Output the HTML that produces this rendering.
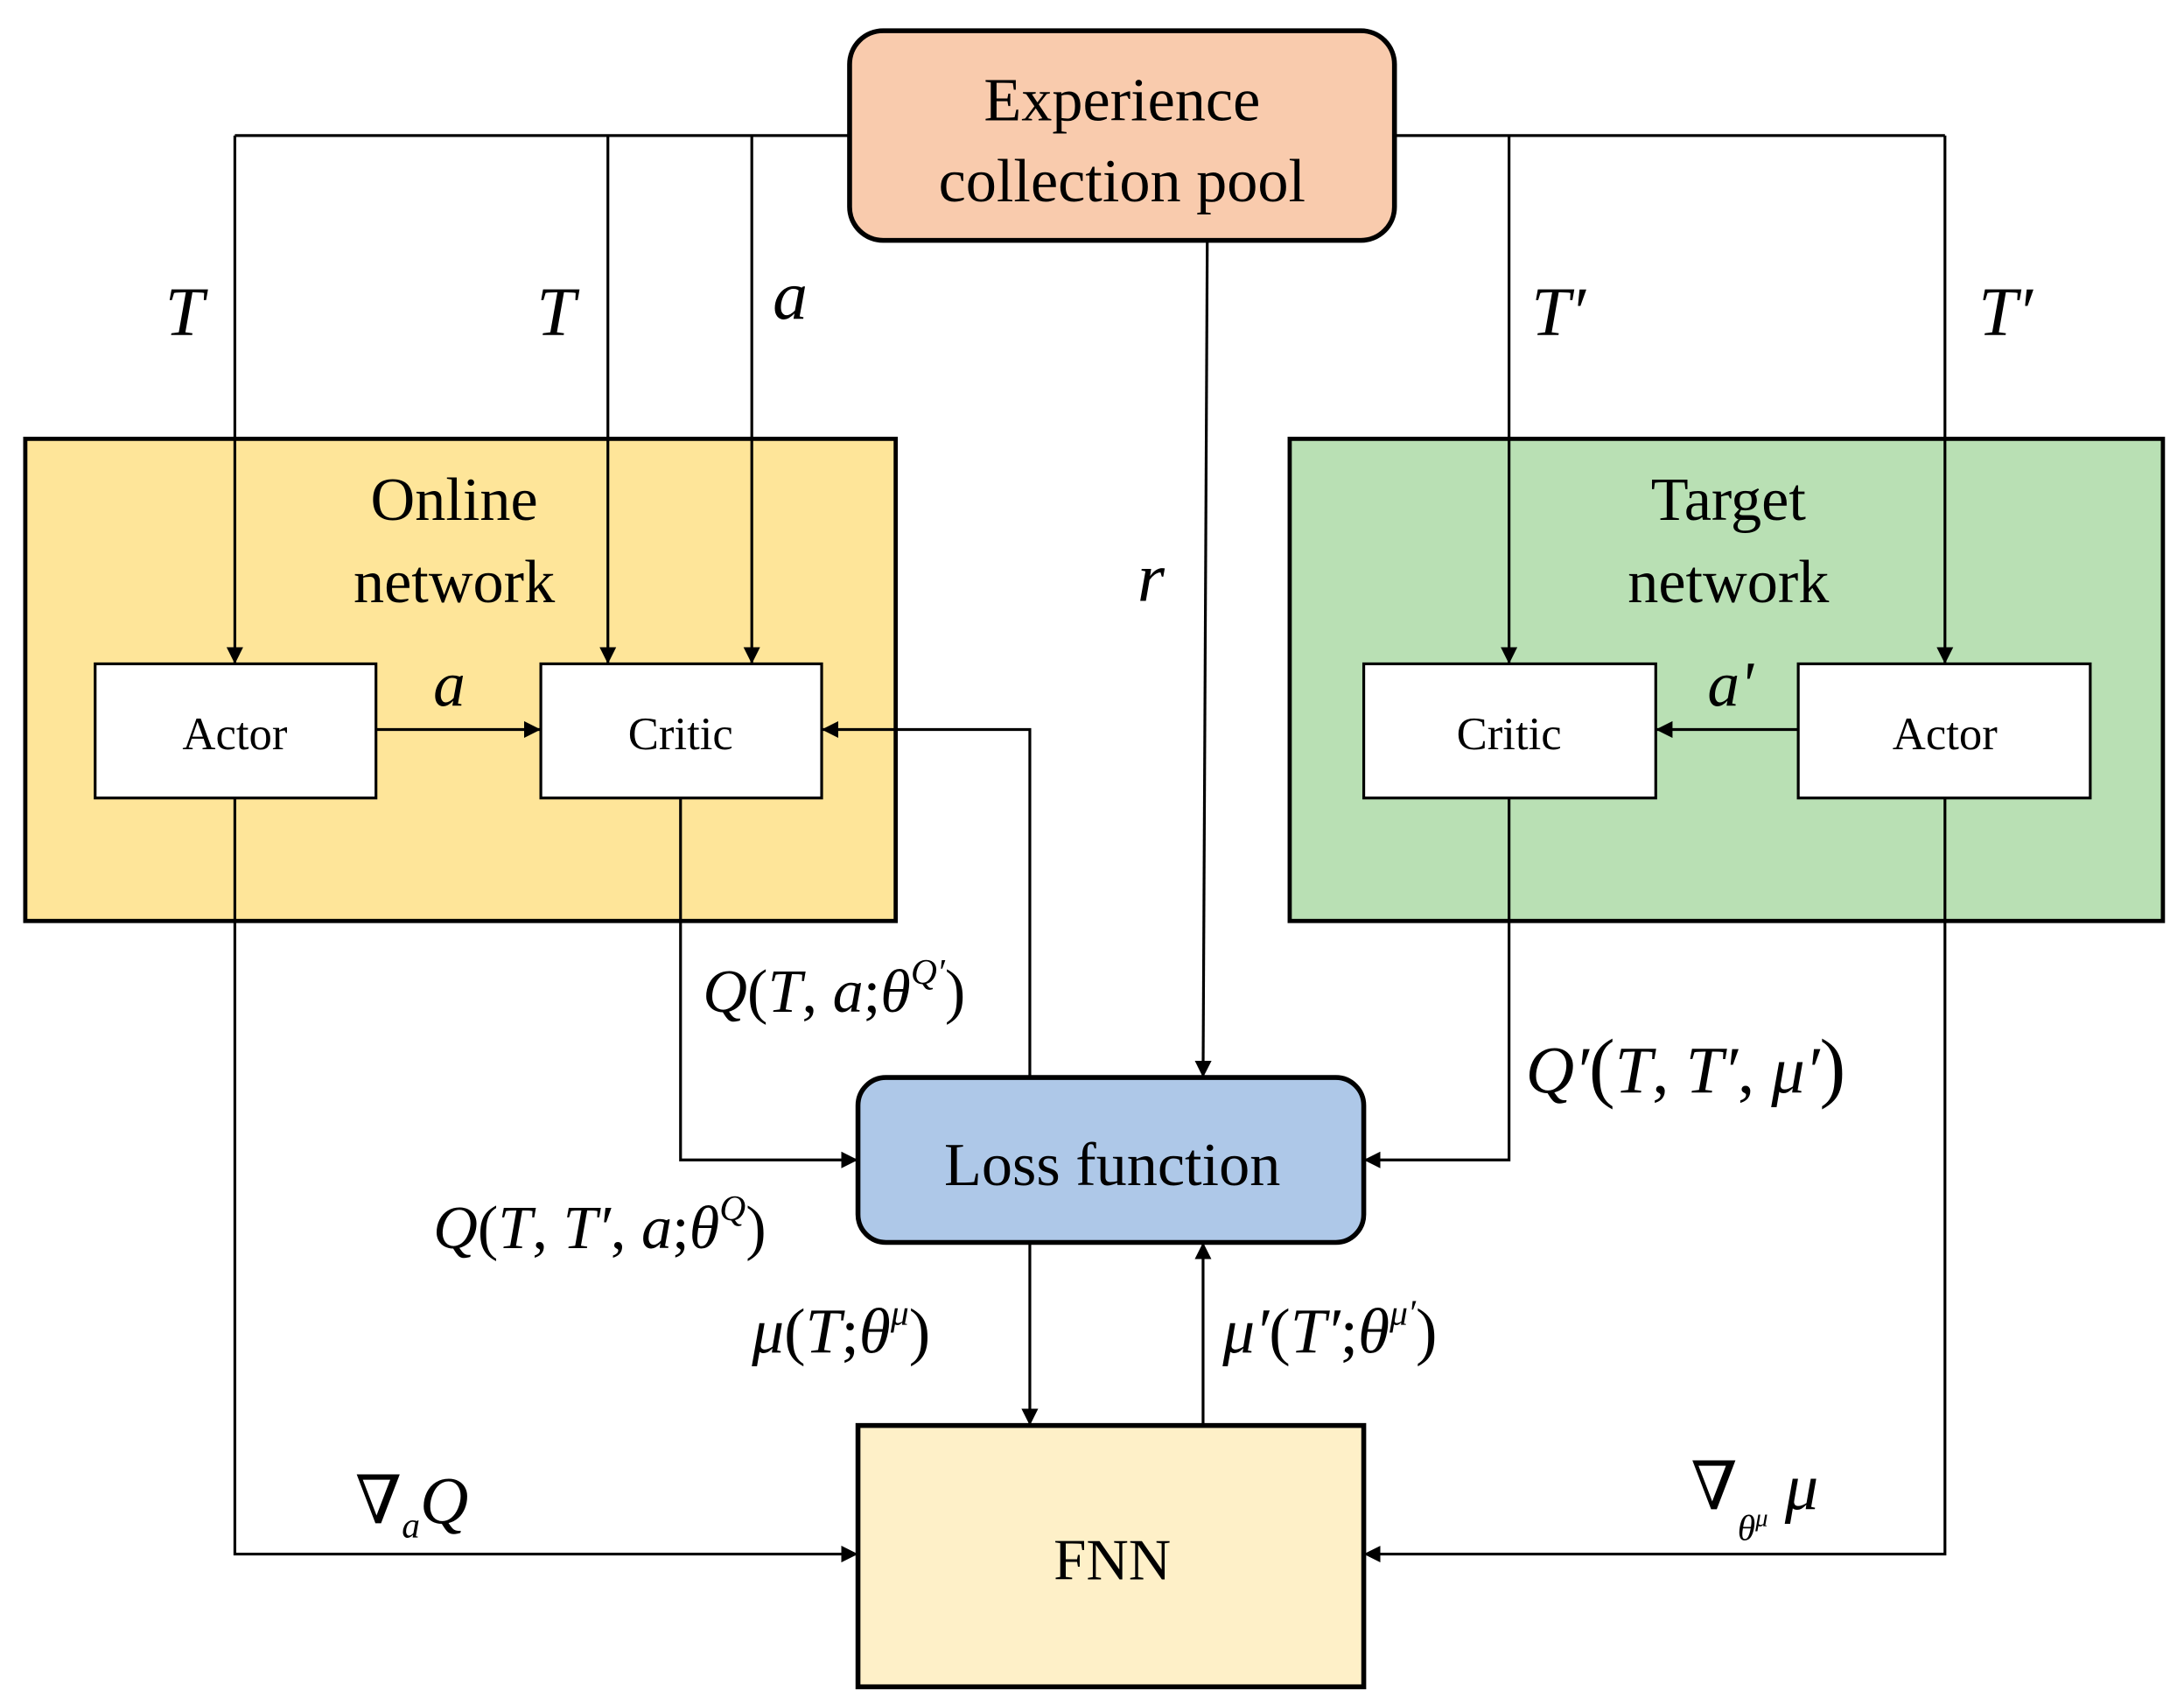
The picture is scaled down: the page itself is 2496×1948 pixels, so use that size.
<!DOCTYPE html>
<html><head><meta charset="utf-8"><style>
html,body{margin:0;padding:0;background:#fff;}
svg{display:block;}
text{font-family:"Liberation Serif",serif;}
.i{font-style:italic;}
</style></head><body>
<svg width="2496" height="1948" viewBox="0 0 1563 1220" xmlns="http://www.w3.org/2000/svg">
<defs>
<marker id="a" viewBox="0 0 10 10" refX="10" refY="5" markerWidth="12" markerHeight="12" markerUnits="userSpaceOnUse" orient="auto">
<path d="M0,0 L10,5 L0,10 z" fill="#000"/></marker>
</defs>
<rect x="0" y="0" width="1563" height="1220" fill="#fff"/>
<rect x="18" y="314" width="623" height="345" fill="#FEE599" stroke="#000" stroke-width="3"/>
<rect x="923" y="314" width="625" height="345" fill="#B9E0B4" stroke="#000" stroke-width="3"/>
<rect x="608" y="22" width="390" height="150" rx="24" fill="#F9CBAD" stroke="#000" stroke-width="3.5"/>
<rect x="614" y="771" width="362" height="118" rx="20" fill="#AEC8E8" stroke="#000" stroke-width="3.5"/>
<rect x="614" y="1020" width="362" height="187" fill="#FEF0C8" stroke="#000" stroke-width="3.5"/>
<rect x="68" y="475" width="201" height="96" fill="#fff" stroke="#000" stroke-width="2"/>
<rect x="387" y="475" width="201" height="96" fill="#fff" stroke="#000" stroke-width="2"/>
<rect x="976" y="475" width="209" height="96" fill="#fff" stroke="#000" stroke-width="2"/>
<rect x="1287" y="475" width="209" height="96" fill="#fff" stroke="#000" stroke-width="2"/>
<g stroke="#000" stroke-width="2" fill="none">
<polyline points="608,97 168,97"/>
<polyline points="998,97 1392,97"/>
<line x1="168" y1="97" x2="168" y2="475" marker-end="url(#a)"/>
<line x1="435" y1="97" x2="435" y2="475" marker-end="url(#a)"/>
<line x1="538" y1="97" x2="538" y2="475" marker-end="url(#a)"/>
<line x1="1080" y1="97" x2="1080" y2="475" marker-end="url(#a)"/>
<line x1="1392" y1="97" x2="1392" y2="475" marker-end="url(#a)"/>
<line x1="864" y1="172" x2="861" y2="771" marker-end="url(#a)"/>
<line x1="269" y1="522" x2="387" y2="522" marker-end="url(#a)"/>
<line x1="1287" y1="522" x2="1185" y2="522" marker-end="url(#a)"/>
<polyline points="737,771 737,522 588,522" marker-end="url(#a)"/>
<polyline points="487,571 487,830 614,830" marker-end="url(#a)"/>
<polyline points="1080,571 1080,830 976,830" marker-end="url(#a)"/>
<line x1="737" y1="889" x2="737" y2="1020" marker-end="url(#a)"/>
<line x1="861" y1="1020" x2="861" y2="889" marker-end="url(#a)"/>
<polyline points="168,571 168,1112 614,1112" marker-end="url(#a)"/>
<polyline points="1392,571 1392,1112 976,1112" marker-end="url(#a)"/>
</g>
<g text-anchor="middle" fill="#000">
<text x="803" y="86" font-size="44">Experience</text>
<text x="803" y="144" font-size="44">collection pool</text>
<text x="325" y="372" font-size="44">Online</text>
<text x="325" y="431" font-size="44">network</text>
<text x="1237" y="372" font-size="44">Target</text>
<text x="1237" y="431" font-size="44">network</text>
<text x="168" y="536" font-size="33">Actor</text>
<text x="487" y="536" font-size="33">Critic</text>
<text x="1080" y="536" font-size="33">Critic</text>
<text x="1392" y="536" font-size="33">Actor</text>
<text x="796" y="848" font-size="44">Loss function</text>
<text x="796" y="1130" font-size="42">FNN</text>
</g>
<g class="i" fill="#000" font-size="50">
<text x="118" y="240">T</text>
<text x="384" y="240">T</text>
<text x="553" y="228">a</text>
<text x="1096" y="240">T′</text>
<text x="1416" y="240">T′</text>
<text x="814" y="430">r</text>
<text x="310" y="505" font-size="46">a</text>
<text x="1222" y="505" font-size="46">a'</text>
</g>
<g fill="#000" font-size="44">
<text x="503" y="724"><tspan class="i">Q</tspan>(<tspan class="i">T</tspan>, <tspan class="i">a</tspan>;<tspan class="i">θ</tspan><tspan class="i" font-size="26" dy="-20">Q′</tspan><tspan dy="20">)</tspan></text>
<text x="310" y="893"><tspan class="i">Q</tspan>(<tspan class="i">T</tspan>, <tspan class="i">T′</tspan>, <tspan class="i">a</tspan>;<tspan class="i">θ</tspan><tspan class="i" font-size="26" dy="-20">Q</tspan><tspan dy="20">)</tspan></text>
<text x="1092" y="782" font-size="48"><tspan class="i">Q′</tspan><tspan font-size="56">(</tspan><tspan class="i">T</tspan>, <tspan class="i">T′</tspan>, <tspan class="i">μ′</tspan><tspan font-size="56">)</tspan></text>
<text x="538" y="968" font-size="46"><tspan class="i">μ</tspan>(<tspan class="i">T</tspan>;<tspan class="i">θ</tspan><tspan class="i" font-size="26" dy="-20">μ</tspan><tspan dy="20">)</tspan></text>
<text x="875" y="968" font-size="46"><tspan class="i">μ′</tspan>(<tspan class="i">T′</tspan>;<tspan class="i">θ</tspan><tspan class="i" font-size="26" dy="-20">μ′</tspan><tspan dy="20">)</tspan></text>
<text x="254" y="1090" font-size="48"><tspan font-family="DejaVu Serif" font-weight="300">∇</tspan><tspan class="i" font-size="26" dy="10">a</tspan><tspan class="i" dy="-10">Q</tspan></text>
<text x="1210" y="1080" font-size="48"><tspan font-family="DejaVu Serif">∇</tspan><tspan class="i" font-size="26" dy="22">θ<tspan font-size="18" dy="-10">μ</tspan></tspan><tspan class="i" dy="-12"> μ</tspan></text>
</g>
</svg>
</body></html>
